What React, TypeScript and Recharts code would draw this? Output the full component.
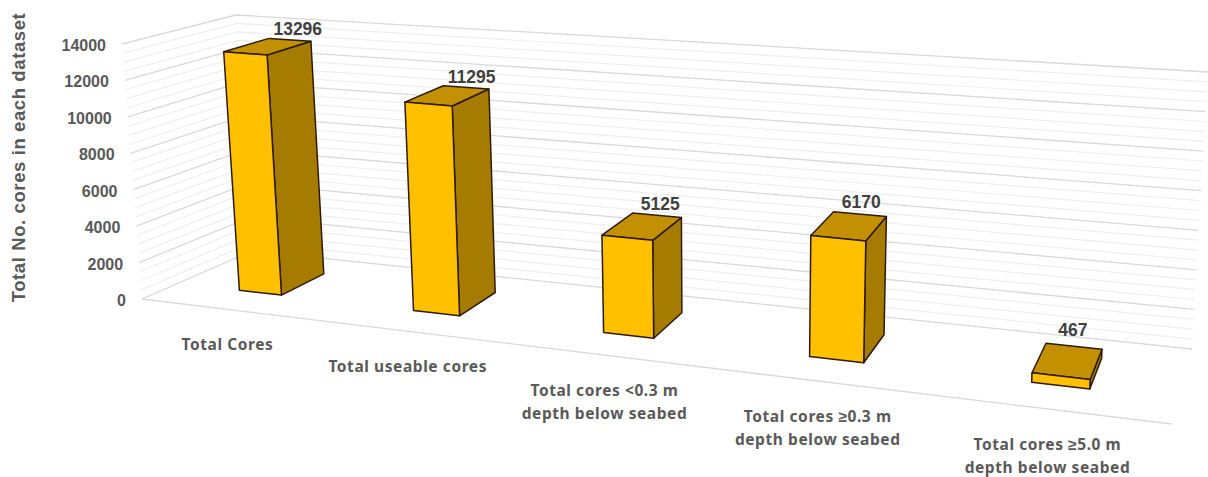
import { BarChart, Bar, XAxis, YAxis, CartesianGrid, LabelList } from 'recharts';

const CATEGORIES = [
  'Total Cores',
  'Total useable cores',
  'Total cores <0.3 m depth below seabed',
  'Total cores ≥0.3 m depth below seabed',
  'Total cores ≥5.0 m depth below seabed',
];
const CORE_COUNTS = [13296, 11295, 5125, 6170, 467];
const Y_LABELLED = [0, 2000, 4000, 6000, 8000, 10000, 12000, 14000];
const Y_TICKS = [
  0, 500, 1000, 1500, 2000, 2500, 3000, 3500, 4000, 4500, 5000, 5500, 6000, 6500, 7000,
  7500, 8000, 8500, 9000, 9500, 10000, 10500, 11000, 11500, 12000, 12500, 13000, 13500, 14000,
];
const Y_MAX = 14000;

const chartData = CATEGORIES.map((name, i) => ({ name, value: CORE_COUNTS[i] }));

const WIDTH = 1208;
const HEIGHT = 477;
const MARGIN = { top: 20, right: 20, bottom: 10, left: 10 };
const Y_AXIS_W = 40;
const X_AXIS_H = 40;
const PLOT_LEFT = MARGIN.left + Y_AXIS_W;
const PLOT_W = WIDTH - PLOT_LEFT - MARGIN.right;
const PLOT_H = HEIGHT - MARGIN.top - MARGIN.bottom - X_AXIS_H;
const PLOT_BOTTOM = MARGIN.top + PLOT_H;

// Floor corners and the height vector (for the full y range) at each corner of the 3D box
const FLOOR = { fl: [142, 299], fr: [1172, 424], bl: [252, 251], br: [1192, 349] };
const RISE = { fl: [-20, -255], fr: [15, -295], bl: [-16, -236], br: [16, -277] };
// Depth slots of the columns inside the floor, 0 = front edge, 1 = back wall
const BAR_FRONT = 0.33;
const BAR_BACK = 0.75;

const mix = (a: number, b: number, k: number) => a + (b - a) * k;

function bilinear(q: Record<string, number[]>, w: number, t: number, i: number) {
  return mix(mix(q.fl[i], q.fr[i], w), mix(q.bl[i], q.br[i], w), t);
}

// Flat plot fractions to page pixels: s along the categories, t into the depth
function project(s: number, t: number, v: number) {
  const w = 0.8 * s + 0.2 * s * s;
  const k = v / Y_MAX;
  return [
    bilinear(FLOOR, w, t, 0) + bilinear(RISE, w, t, 0) * k,
    bilinear(FLOOR, w, t, 1) + bilinear(RISE, w, t, 1) * k,
  ];
}

const toS = (x: number) => (x - PLOT_LEFT) / PLOT_W;
const toValue = (y: number) => ((PLOT_BOTTOM - y) / PLOT_H) * Y_MAX;
const pts = (list: number[][]) => list.map((p) => `${p[0].toFixed(1)},${p[1].toFixed(1)}`).join(' ');

function GridLine(props: any) {
  const v = Math.round(toValue(props.y1));
  const major = Y_LABELLED.includes(v);
  const wall = [project(0, 0, v), project(0, 1, v), project(1, 1, v)];
  return (
    <g>
      <polyline
        points={pts(wall)}
        fill="none"
        stroke={major ? '#d9d9d9' : '#eeeeee'}
        strokeWidth={major ? 1.3 : 1.2}
      />
      {v === 0 && (
        <line
          x1={project(0, 0, 0)[0]}
          y1={project(0, 0, 0)[1]}
          x2={project(1, 0, 0)[0]}
          y2={project(1, 0, 0)[1]}
          stroke="#d9d9d9"
          strokeWidth={1.3}
        />
      )}
    </g>
  );
}

function Column(props: any) {
  const { x, y, width } = props;
  const s0 = toS(x);
  const s1 = toS(x + width);
  const v = toValue(y);
  const edge = { stroke: '#2e1a04', strokeWidth: 1.5, strokeLinejoin: 'round' as const };
  const fb0 = project(s0, BAR_FRONT, 0);
  const fb1 = project(s1, BAR_FRONT, 0);
  const ft0 = project(s0, BAR_FRONT, v);
  const ft1 = project(s1, BAR_FRONT, v);
  const bb1 = project(s1, BAR_BACK, 0);
  const bt0 = project(s0, BAR_BACK, v);
  const bt1 = project(s1, BAR_BACK, v);
  return (
    <g>
      <polygon points={pts([fb1, bb1, bt1, ft1])} fill="#a67c00" {...edge} />
      <polygon points={pts([ft0, ft1, bt1, bt0])} fill="#c29000" {...edge} />
      <polygon points={pts([fb0, fb1, ft1, ft0])} fill="#ffc000" {...edge} />
    </g>
  );
}

function ValueLabel(props: any) {
  const { x, y, width, value } = props;
  const s = toS(x + width / 2);
  const p = project(s, BAR_BACK, toValue(y));
  return (
    <text
      x={p[0] + 9 - 11 * s}
      y={p[1] - 4.5 - 8 * s ** 4}
      textAnchor="middle"
      fontFamily="'Liberation Sans', sans-serif"
      fontWeight="bold"
      fontSize={17.5}
      fill="#404040"
    >
      {value}
    </text>
  );
}

function ValueTick(props: any) {
  const value = props.payload.value;
  if (!Y_LABELLED.includes(value)) return <g />;
  const p = project(0, 0, value);
  return (
    <text
      x={p[0] - 16}
      y={p[1] + 7}
      textAnchor="end"
      fontFamily="'Liberation Sans', sans-serif"
      fontWeight="bold"
      fontSize={16}
      fill="#595959"
    >
      {value}
    </text>
  );
}

function CategoryTick(props: any) {
  const s = toS(props.x);
  const p = project(s, 0, 0);
  const label: string = props.payload.value;
  const cut = label.indexOf(' depth');
  const lines = cut > 0 ? [label.slice(0, cut), label.slice(cut + 1)] : [label];
  return (
    <text
      textAnchor="middle"
      fontFamily="'Noto Sans', sans-serif"
      fontWeight="bold"
      fontSize={15.5}
      letterSpacing={0.58}
      fill="#595959"
    >
      {lines.map((line, i) => (
        <tspan key={line} x={p[0] + 1.5 - 5 * s} y={p[1] + 41 + i * 22.5}>
          {line}
        </tspan>
      ))}
    </text>
  );
}

export default function App() {
  return (
    <div style={{ position: 'absolute', left: 0, top: 0, width: WIDTH, height: HEIGHT, background: '#fff' }}>
      <BarChart width={WIDTH} height={HEIGHT} data={chartData} margin={MARGIN} barCategoryGap="37.5%">
        <CartesianGrid vertical={false} horizontal={GridLine} syncWithTicks />
        <XAxis
          dataKey="name"
          height={X_AXIS_H}
          axisLine={false}
          tickLine={false}
          interval={0}
          tick={CategoryTick}
        />
        <YAxis
          width={Y_AXIS_W}
          domain={[0, Y_MAX]}
          ticks={Y_TICKS}
          interval={0}
          axisLine={false}
          tickLine={false}
          tick={ValueTick}
        />
        <Bar dataKey="value" isAnimationActive={false} shape={Column}>
          <LabelList dataKey="value" content={ValueLabel} />
        </Bar>
        <text
          transform="translate(25,157.5) rotate(-90)"
          textAnchor="middle"
          fontFamily="'Liberation Sans', sans-serif"
          fontWeight="bold"
          fontSize={18.5}
          letterSpacing={0.6}
          fill="#595959"
        >
          Total No. cores in each dataset
        </text>
      </BarChart>
    </div>
  );
}
